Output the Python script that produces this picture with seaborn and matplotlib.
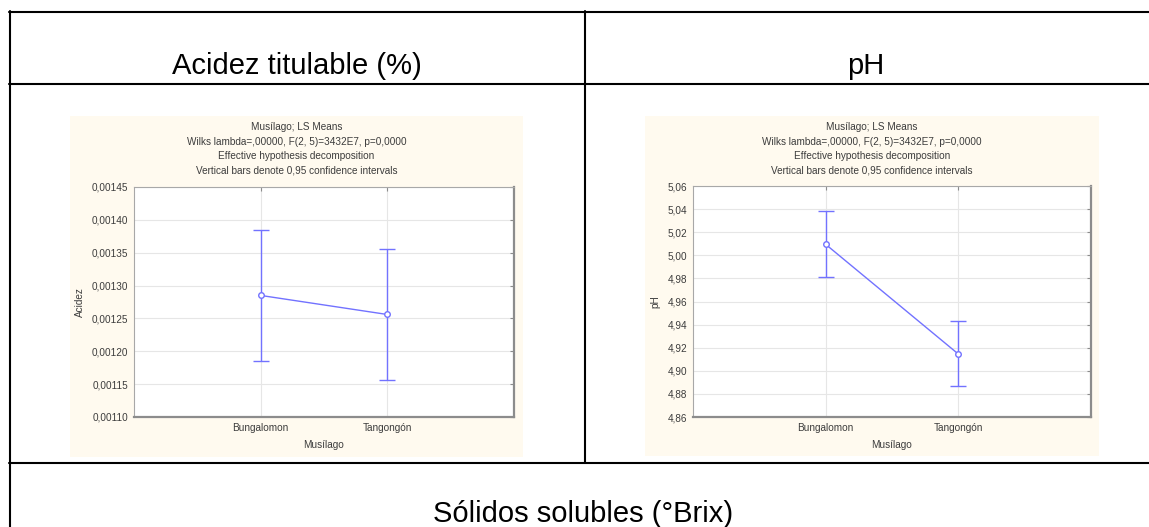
import numpy as np
import pandas as pd
import matplotlib
matplotlib.use('Agg')
import matplotlib.pyplot as plt
from matplotlib.lines import Line2D
from matplotlib.patches import Rectangle
from matplotlib.ticker import FuncFormatter, MultipleLocator
import seaborn as sns

# ---- DATA ----
cats = ['Bungalomon', 'Tangongón']

acidez_mean = [0.001285, 0.001256]
acidez_lo = [0.001185, 0.001156]
acidez_hi = [0.001384, 0.001356]

ph_mean = [5.0095, 4.9145]
ph_lo = [4.9815, 4.8865]
ph_hi = [5.038, 4.943]

chart_title = [
    'Musílago; LS Means',
    'Wilks lambda=,00000, F(2, 5)=3432E7, p=0,0000',
    'Effective hypothesis decomposition',
    'Vertical bars denote 0,95 confidence intervals',
]
headers = ['Acidez titulable (%)', 'pH', 'Sólidos solubles (°Brix)']

sns.set_style('white')
plt.rcParams['font.family'] = ['Liberation Sans', 'DejaVu Sans']

W, H = 1149, 527
BLUE = '#7272ff'
TXT = '#3c3c3c'
CREAM = '#fffaef'

fig = plt.figure(figsize=(W / 100, H / 100), dpi=100)


def fx(x):
    return x / W


def fy(y):
    return 1 - y / H


# ---- TABLE FRAME ----
lw = 1.5
for (x0, x1, y0, y1) in [(9, W, 12, 12), (9, W, 84, 84), (9, W, 462.5, 462.5),
                         (9.5, 9.5, 11, H), (585, 585, 11, 463)]:
    fig.add_artist(Line2D([fx(x0), fx(x1)], [fy(y0), fy(y1)], color='black',
                          linewidth=lw, transform=fig.transFigure))

fig.text(fx(297), fy(74), headers[0], ha='center', va='baseline', fontsize=21, color='black')
fig.text(fx(866), fy(74), headers[1], ha='center', va='baseline', fontsize=21, color='black')
fig.text(fx(583), fy(522), headers[2], ha='center', va='baseline', fontsize=21, color='black')


# ---- CHART PANELS ----
def draw_panel(panel, axbox, mean, lo, hi, ylabel, ylim, step, fmt):
    px0, py0, px1, py1 = panel
    fig.add_artist(Rectangle((fx(px0), fy(py1)), fx(px1 - px0), (py1 - py0) / H,
                             facecolor=CREAM, edgecolor='none', zorder=-1,
                             transform=fig.transFigure))
    cx = (px0 + px1) / 2
    for i, line in enumerate(chart_title):
        fig.text(fx(cx), fy(127.5 + i * 14.3), line, ha='center', va='center',
                 fontsize=7.2, color=TXT)

    ax0, ay0, ax1, ay1 = axbox
    ax = fig.add_axes([fx(ax0), fy(ay1), fx(ax1 - ax0), (ay1 - ay0) / H])
    ax.set_facecolor('white')

    df = pd.DataFrame({'Musílago': cats, 'val': mean})
    pos = np.arange(len(cats))
    ax.errorbar(pos, mean, yerr=[np.array(mean) - np.array(lo), np.array(hi) - np.array(mean)],
                fmt='none', ecolor=BLUE, elinewidth=1, capsize=6, capthick=1, zorder=3)
    sns.pointplot(data=df, x='Musílago', y='val', ax=ax, color=BLUE, errorbar=None,
                  markers='o', linewidth=1, markersize=4, markeredgewidth=1)
    for ln in ax.lines:
        ln.set_markerfacecolor('white')
        ln.set_zorder(4)

    ax.set_xlim(-1, 2)
    ax.set_ylim(*ylim)
    ax.yaxis.set_major_locator(MultipleLocator(step))
    ax.yaxis.set_major_formatter(FuncFormatter(lambda v, p: fmt.format(v).replace('.', ',')))
    ax.grid(True, color='#e6e6e6', linewidth=0.8)
    ax.set_axisbelow(True)

    ax.tick_params(axis='both', direction='in', length=3, width=0.8, color='#8c8c8c',
                   labelsize=7.2, labelcolor=TXT, top=True, right=True)
    ax.tick_params(axis='x', pad=4)
    ax.tick_params(axis='y', pad=4)
    ax.set_xlabel('Musílago', fontsize=7.2, color=TXT, labelpad=5)
    ax.set_ylabel(ylabel, fontsize=7.2, color=TXT, labelpad=5)

    for side in ['left', 'top']:
        ax.spines[side].set_color('#a8a8a8')
        ax.spines[side].set_linewidth(0.8)
    for side in ['right', 'bottom']:
        ax.spines[side].set_color('#8c8c8c')
        ax.spines[side].set_linewidth(1.6)
    return ax


draw_panel((70, 116, 523, 457), (134, 187, 514, 417), acidez_mean, acidez_lo, acidez_hi,
           'Acidez', (0.00110, 0.00145), 0.00005, '{:.5f}')
draw_panel((645, 116, 1099, 456), (693, 186, 1091, 417), ph_mean, ph_lo, ph_hi,
           'pH', (4.86, 5.06), 0.02, '{:.2f}')

fig.savefig('out.png', dpi=100)
